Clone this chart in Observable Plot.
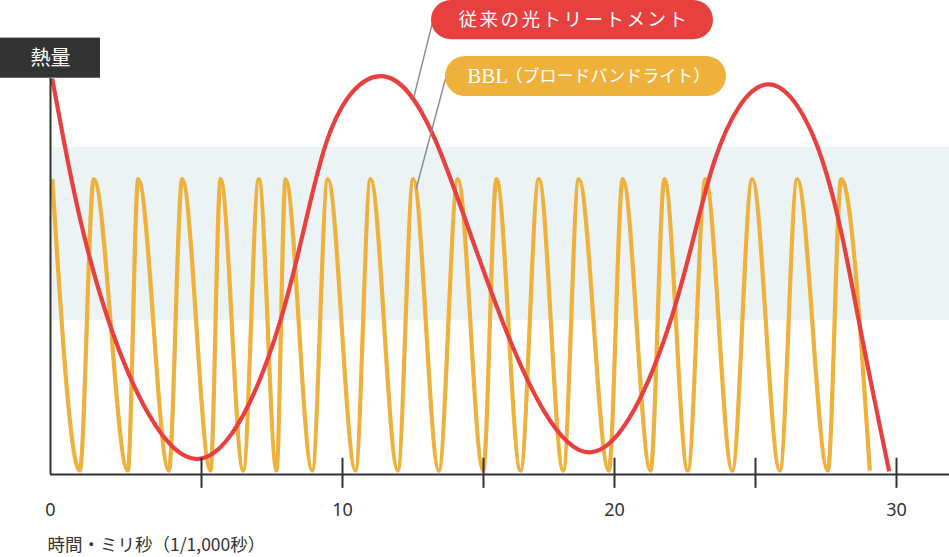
<!DOCTYPE html>
<html>
<head>
<meta charset="utf-8">
<script src="https://cdn.jsdelivr.net/npm/d3@7"></script>
<script src="https://cdn.jsdelivr.net/npm/@observablehq/plot@0.6"></script>
<style>
  html, body { margin: 0; padding: 0; background: #fff; }
  #chart svg { display: block; }
</style>
</head>
<body>
<div id="chart"></div>
<script>
// ---- data (time in ms, heat in relative units 0–100) ----
const bblTime = [0.06, 0.97, 1.434, 2.56, 2.904, 3.917, 4.361, 5.319, 5.674, 6.479,
  7.032, 7.66, 7.979, 8.926, 9.479, 10.461, 10.993, 11.961, 12.507, 13.415,
  14.089, 14.989, 15.496, 16.412, 17.111, 18.042, 18.637, 19.782, 20.294, 21.277,
  21.773, 22.599, 23.227, 24.174, 24.883, 25.862, 26.479, 27.564, 28.039, 29.053];
const bblHeat = [74.6, 1.0, 74.6, 1.0, 74.6, 1.0, 74.6, 1.0, 74.6, 1.0,
  74.6, 1.0, 74.6, 1.0, 74.6, 1.0, 74.6, 1.0, 74.6, 1.0,
  74.6, 1.0, 74.6, 1.0, 74.6, 1.0, 74.6, 1.0, 74.6, 1.0,
  74.6, 1.0, 74.6, 1.0, 74.6, 1.0, 74.6, 1.0, 74.6, 1.0];

const ipTime = [0.056, 0.44, 1.92, 4.86, 7.80, 9.45, 11.35, 13.30,
  15.71, 19.08, 21.99, 23.55, 25.44, 27.37, 28.66, 29.74];
const ipHeat = [100, 84.3, 38.9, 3.9, 38.9, 84.3, 100.6, 84.3,
  38.9, 5.6, 38.9, 79.3, 98.5, 79.3, 38.9, 0.8];

const bandRange = [38.9, 82.6];          // shaded effective zone (heat)
const tickValues = [5, 10, 15, 20, 25, 30];
const tickLabels = [0, 10, 20, 30];

const labelIPL = "従来の光トリートメント";
const labelBBL1 = "BBL";
const labelBBL2 = "（ブロードバンドライト）";
const yTitle = "熱量";
const xTitle = "時間・ミリ秒（1/1,000秒）";

// ---- styles ----
const RED = "#e8403f";
const ORANGE = "#eeb13c";
const DARK = "#333333";
const BAND = "#ebf3f4";
const GRAY = "#8c8c8c";
const CJK = "'Liberation Serif', 'Noto Sans CJK JP', serif";

const bbl = bblTime.map((t, i) => ({t, heat: bblHeat[i]}));
const ipl = ipTime.map((t, i) => ({t, heat: ipHeat[i]}));

const chart = Plot.plot({
  width: 949,
  height: 557,
  marginLeft: 50,
  marginRight: 0,
  marginTop: 78,
  marginBottom: 83,
  x: {type: "linear", domain: [0, 5, 15, 20, 30], range: [50, 201, 483, 614, 896], axis: null},
  y: {domain: [0, 100], range: [474, 78], axis: null},
  marks: [
    // shaded band
    Plot.rect([bandRange], {x1: 0, x2: 31.9, y1: d => d[0], y2: d => d[1], fill: BAND}),
    // BBL pulses
    Plot.line(bbl, {x: "t", y: "heat", stroke: ORANGE, strokeWidth: 4.2, curve: "monotone-x", strokeLinecap: "butt"}),
    // conventional IPL
    Plot.line(ipl, {x: "t", y: "heat", stroke: RED, strokeWidth: 4.2, curve: "natural", strokeLinecap: "butt"}),
    // leader lines
    Plot.link([{x1: 13.18, y1: 113.8, x2: 12.53, y2: 95.3}], {x1: "x1", y1: "y1", x2: "x2", y2: "y2", stroke: GRAY, strokeWidth: 1.5}),
    Plot.link([{x1: 13.65, y1: 99.9, x2: 12.61, y2: 72.1}], {x1: "x1", y1: "y1", x2: "x2", y2: "y2", stroke: GRAY, strokeWidth: 1.5}),
    // axes
    Plot.ruleY([0], {stroke: DARK, strokeWidth: 2}),
    Plot.ruleX([0], {y1: 0, y2: 100, stroke: DARK, strokeWidth: 2}),
    Plot.ruleX(tickValues, {x: d => d, y1: -3.5, y2: 4.1, stroke: DARK, strokeWidth: 2}),
    Plot.text(tickLabels, {x: d => d, y: -9, text: d => String(d), fontSize: 18, fill: DARK, fontFamily: "'Noto Sans', sans-serif", textAnchor: "middle"}),
    Plot.text([xTitle], {x: -0.1, y: -17.9, text: d => d, fontSize: 17.5, fill: DARK, fontFamily: "'Noto Sans CJK JP', sans-serif", textAnchor: "start"}),
    // y title box
    Plot.rect([yTitle], {x1: -1.656, x2: 1.656, y1: 100.07, y2: 110.2, fill: DARK}),
    Plot.text([yTitle], {x: 0, y: 105.15, text: d => d, fontSize: 20, fill: "#fff", fontFamily: CJK}),
    // labels
    Plot.rect([labelIPL], {x1: 13.156, x2: 23.511, y1: 109.77, y2: 119.7, fill: RED, rx: 20}),
    Plot.text([labelIPL], {x: 18.45, y: 114.7, text: d => d, fontSize: 18.5, fill: "#fff", fontFamily: CJK}),
    Plot.rect([labelBBL1], {x1: 13.652, x2: 23.972, y1: 95.45, y2: 105.56, fill: ORANGE, rx: 20}),
    Plot.text([labelBBL1], {x: 14.422, y: 100.5, text: d => d, fontSize: 21, fill: "#fff", fontFamily: CJK, textAnchor: "start"}),
    Plot.text([labelBBL2], {x: 15.84, y: 100.5, text: d => d, fontSize: 17, fill: "#fff", fontFamily: CJK, textAnchor: "start"})
  ]
});

document.getElementById("chart").appendChild(chart);
chart.querySelectorAll("text").forEach(t => {
  if (t.textContent === labelIPL) t.style.letterSpacing = "2.5px";
});
</script>
</body>
</html>
